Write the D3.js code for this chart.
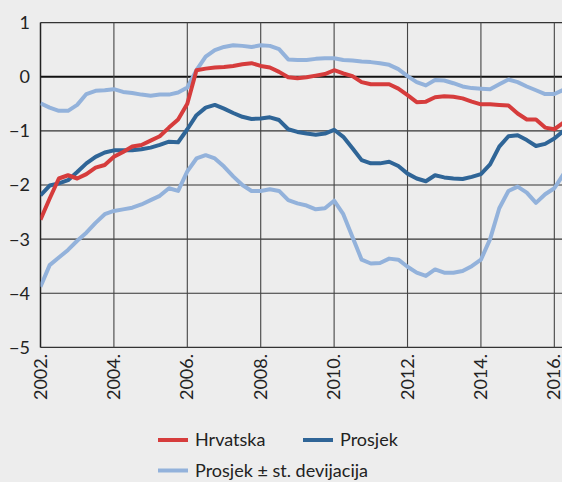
<!DOCTYPE html>
<html><head><meta charset="utf-8">
<script src="https://cdn.jsdelivr.net/npm/d3@7"></script>
<style>
html,body{margin:0;padding:0;background:#ededed;}
svg{display:block;}
text{font-family:Lato,"Noto Sans",sans-serif;fill:#222;}
</style></head><body>
<svg id="c" width="562" height="482"></svg>
<script>
// Quarterly observations, 2002 Q1 onward
const startYear = 2002;
const hrvatska = [-2.64,-2.25,-1.88,-1.82,-1.88,-1.80,-1.68,-1.63,-1.48,-1.39,-1.29,-1.26,-1.18,-1.10,-0.94,-0.79,
  -0.50,0.12,0.15,0.17,0.18,0.20,0.23,0.25,0.20,0.17,0.09,-0.01,-0.03,-0.01,0.02,0.05,
  0.12,0.06,0.01,-0.10,-0.14,-0.14,-0.14,-0.22,-0.34,-0.47,-0.46,-0.38,-0.36,-0.37,-0.40,-0.46,
  -0.51,-0.51,-0.52,-0.53,-0.68,-0.79,-0.79,-0.94,-0.97,-0.85];
const prosjek = [-2.19,-2.01,-1.97,-1.91,-1.76,-1.60,-1.48,-1.40,-1.36,-1.36,-1.36,-1.34,-1.31,-1.26,-1.20,-1.21,
  -0.97,-0.71,-0.57,-0.52,-0.59,-0.67,-0.74,-0.78,-0.77,-0.75,-0.80,-0.97,-1.02,-1.05,-1.07,-1.05,
  -0.98,-1.11,-1.32,-1.54,-1.60,-1.60,-1.57,-1.65,-1.79,-1.88,-1.93,-1.82,-1.86,-1.88,-1.89,-1.85,
  -1.80,-1.62,-1.29,-1.10,-1.08,-1.17,-1.28,-1.24,-1.14,-1.00];
const gornja = [-0.49,-0.57,-0.63,-0.63,-0.52,-0.32,-0.26,-0.25,-0.23,-0.28,-0.30,-0.33,-0.35,-0.33,-0.33,-0.29,
  -0.20,0.12,0.37,0.49,0.55,0.58,0.57,0.55,0.58,0.57,0.51,0.32,0.31,0.31,0.33,0.34,
  0.34,0.31,0.30,0.28,0.27,0.25,0.22,0.14,0.01,-0.10,-0.16,-0.06,-0.07,-0.12,-0.18,-0.21,
  -0.22,-0.23,-0.14,-0.05,-0.10,-0.18,-0.25,-0.32,-0.32,-0.24];
const donja = [-3.88,-3.48,-3.34,-3.20,-3.03,-2.88,-2.70,-2.54,-2.48,-2.45,-2.42,-2.36,-2.28,-2.20,-2.06,-2.11,
  -1.75,-1.51,-1.45,-1.51,-1.66,-1.84,-2.00,-2.11,-2.11,-2.08,-2.11,-2.28,-2.34,-2.38,-2.45,-2.43,
  -2.29,-2.54,-2.96,-3.38,-3.45,-3.44,-3.36,-3.38,-3.51,-3.62,-3.68,-3.56,-3.62,-3.62,-3.59,-3.50,
  -3.38,-3.00,-2.43,-2.11,-2.03,-2.14,-2.33,-2.17,-2.06,-1.80];
const yTicks = [1,0,-1,-2,-3,-4,-5];
const xTickYears = [2002,2004,2006,2008,2010,2012,2014,2016];
const seriesNames = ["Hrvatska","Prosjek","Prosjek \u00b1 st. devijacija"];
const colors = {red:"#d63c3c", dark:"#2f6597", light:"#93b2db"};

const svg = d3.select("#c");
const x = d3.scaleLinear().domain([2002, 2016.25]).range([40.5, 563.5]);
const y = d3.scaleLinear().domain([-5, 1]).range([347.4, 22.6]);
const t = i => startYear + i/4;

const g = svg.append("g");
g.selectAll(".hg").data(yTicks).join("line")
  .attr("x1", x(2002)).attr("x2", 562)
  .attr("y1", d=>y(d)).attr("y2", d=>y(d))
  .attr("stroke", d=> d===0 ? "#111" : "#333")
  .attr("stroke-width", d=> d===0 ? 2 : 1.1);
g.selectAll(".vg").data(xTickYears).join("line")
  .attr("x1", d=>x(d)).attr("x2", d=>x(d))
  .attr("y1", y(1)).attr("y2", y(-5))
  .attr("stroke", d=> d===2002 ? "#222" : "#444")
  .attr("stroke-width", d=> d===2002 ? 1.5 : 1.1);

const line = d3.line().x((d,i)=>x(t(i))).y(d=>y(d));
svg.append("clipPath").attr("id","pc").append("rect")
  .attr("x", x(2002)).attr("y", 0).attr("width", 600).attr("height", 482);
const lg = svg.append("g").attr("clip-path","url(#pc)");
[[gornja,colors.light],[donja,colors.light],[prosjek,colors.dark],[hrvatska,colors.red]].forEach(([s,c])=>{
  lg.append("path").datum(s).attr("d", line).attr("fill","none")
    .attr("stroke", c).attr("stroke-width", 4).attr("stroke-linejoin","round");
});

svg.selectAll(".yl").data(yTicks).join("text")
  .attr("x", 30).attr("y", d=>y(d)).attr("dy","0.36em")
  .attr("text-anchor","end").attr("font-size", 18)
  .text(d=> d<0 ? "\u2212"+Math.abs(d) : String(d));
svg.selectAll(".xl").data(xTickYears).join("text")
  .attr("transform", d=>`translate(${x(d)+6},354) rotate(-90)`)
  .attr("text-anchor","end").attr("font-size", 18)
  .text(d=> d+".");

const legend = [
  {name:seriesNames[0], c:colors.red, lx:158, ly:440},
  {name:seriesNames[1], c:colors.dark, lx:303, ly:440},
  {name:seriesNames[2], c:colors.light, lx:158, ly:470.5}
];
const lgd = svg.selectAll(".lg").data(legend).join("g");
lgd.append("line").attr("x1",d=>d.lx).attr("x2",d=>d.lx+30).attr("y1",d=>d.ly).attr("y2",d=>d.ly)
  .attr("stroke",d=>d.c).attr("stroke-width",4);
lgd.append("text").attr("x",d=>d.lx+37).attr("y",d=>d.ly).attr("dy","0.36em")
  .attr("font-size",18).text(d=>d.name);
</script></body></html>
